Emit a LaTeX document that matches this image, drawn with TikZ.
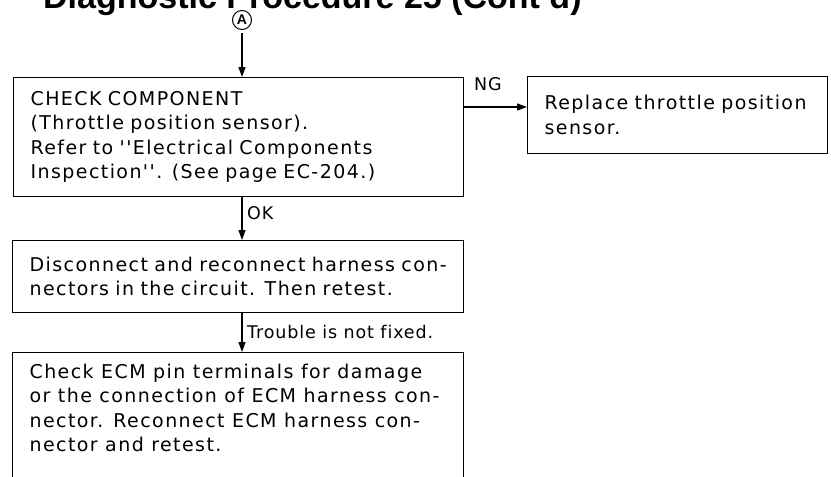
\documentclass[tikz,border=0pt]{standalone}
\usepackage{fontspec}
\setmainfont{Liberation Sans}
\newfontfamily\stepfont[LetterSpace=7.5,Ligatures=NoCommon]{DejaVu Sans}
\newfontfamily\lblfont[LetterSpace=5,Ligatures=NoCommon]{DejaVu Sans}
\usetikzlibrary{arrows.meta}

\tikzset{
  stepbox/.style={draw, line width=1.2pt, anchor=north west, align=left,
    inner xsep=17pt, inner ysep=0pt, font=\stepfont\fontsize{19}{24.5}\selectfont},
  flow/.style={line width=1.2pt, -{Triangle[length=10pt,width=7pt]}},
  lbl/.style={inner sep=0pt, anchor=base west, font=\lblfont\fontsize{17.5}{24}\selectfont}
}

\begin{document}
\begin{tikzpicture}[x=1pt,y=-1pt]
  \useasboundingbox (0,0) rectangle (831,477);
  \clip (0,0) rectangle (831,477);

  % heading, cut off at the top edge
  \node[anchor=base west, inner sep=0pt, font=\fontsize{34}{38}\selectfont\bfseries]
    (title) at (43,8) {Diagnostic Procedure 25 (Cont'd)};

  % connector mark
  \node[draw, circle, line width=1pt, inner sep=0pt, minimum size=19pt,
    font=\fontsize{14}{14}\selectfont\bfseries] (markA) at (242,20) {A};

  % boxes
  \node[stepbox, minimum width=450pt, minimum height=119pt, text width=416pt] (check) at (13,77)
    {CHECK COMPONENT\\(Throttle position sensor).\\Refer to ''Electrical Components\\Inspection''. (See page EC-204.)};
  \node[stepbox, minimum width=300pt, minimum height=77pt, text width=266pt] (replace) at (527,76)
    {Replace throttle position\\sensor.};
  \node[stepbox, minimum width=451pt, minimum height=72pt, text width=417pt] (reconn) at (12,240)
    {Disconnect and reconnect harness con-\\nectors in the circuit. Then retest.};
  \node[stepbox, inner ysep=11pt, minimum width=451pt] (ecm) at (12,352)
    {\parbox[t][140pt][t]{417pt}{Check ECM pin terminals for damage\\or the connection of ECM harness con-\\nector. Reconnect ECM harness con-\\nector and retest.}};

  \coordinate (downx) at (242,0);
  \coordinate (ngy) at (0,107);

  % connectors
  \draw[flow, shorten <=3pt] (markA) -- (markA |- check.north);
  \draw[flow] (check.east |- ngy) -- (replace.west |- ngy);
  \draw[flow] (check.south -| downx) -- (reconn.north -| downx);
  \draw[flow] (reconn.south -| downx) -- (ecm.north -| downx);

  % labels
  \node[lbl] (ng) at (474,90) {NG};
  \node[lbl] (ok) at (247,219) {OK};
  \node[lbl] (trouble) at (247,338) {Trouble is not fixed.};
\end{tikzpicture}
\end{document}
